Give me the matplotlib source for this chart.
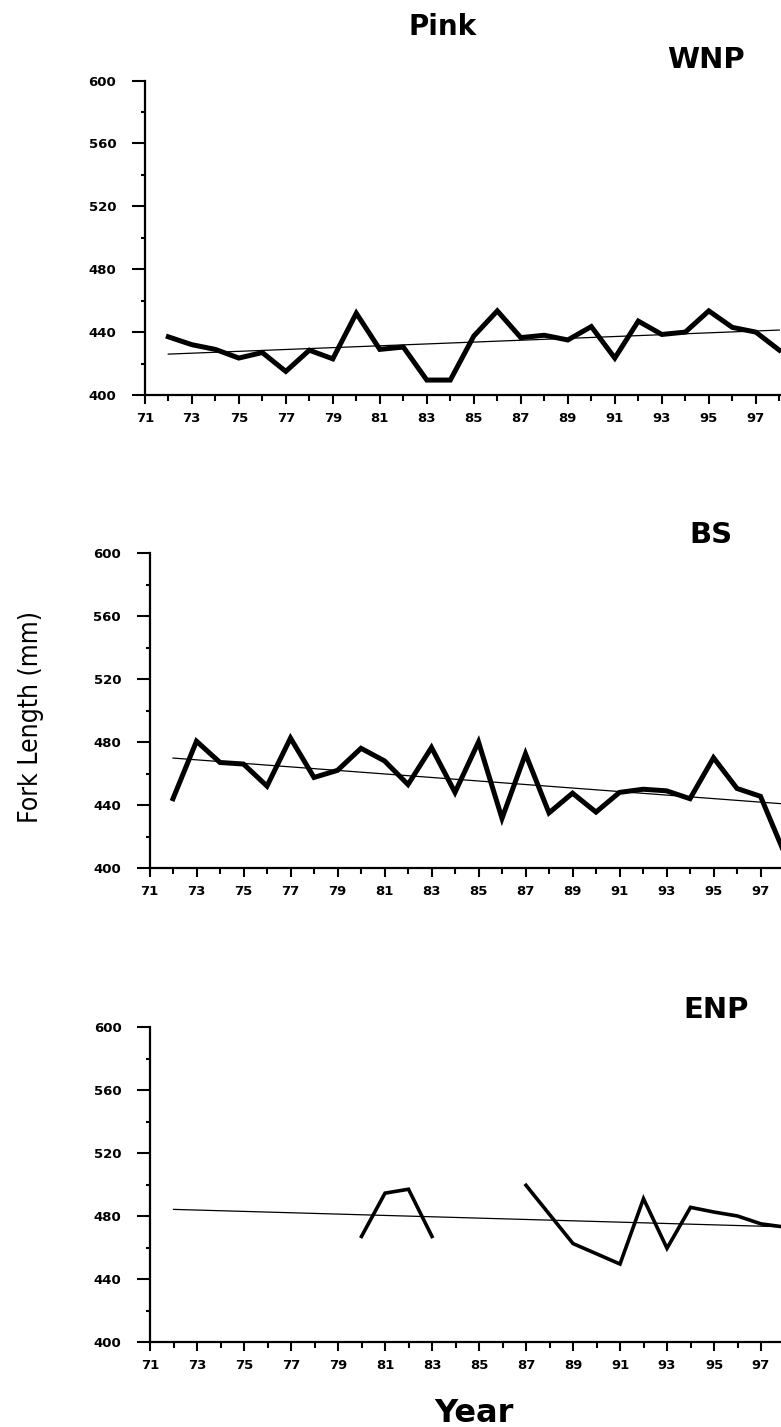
import numpy as np
import matplotlib
matplotlib.use("Agg")
import matplotlib.pyplot as plt
from matplotlib import font_manager
from matplotlib.ticker import MultipleLocator

# years 72..98 (two-digit, as on the axis)
years = list(range(72, 99))

wnp = [437, 432, 429, 423.5, 427, 415, 428.5, 423, 452, 429, 430.5, 409.5, 409.5, 437.5,
       453.5, 436.5, 438, 435, 443.5, 423.5, 447, 438.5, 440, 453.5, 443, 440, 428.5]
bs = [444, 480.5, 467, 466, 452, 482.5, 457.5, 462, 476, 468, 453, 476.5, 448, 480,
      431.5, 472.5, 435, 447.5, 435.5, 448, 450, 449, 444, 470, 450.5, 445.5, 410]
enp = [np.nan] * 8 + [467, 494.5, 497, 467] + [np.nan] * 3 + \
      [499.5, 481, 462.5, 456, 449.5, 491, 459.5, 485.5, 482.5, 480, 475, 473]

# regression lines, end points
trend_years = [72, 98]
wnp_trend = [426, 441.3]
bs_trend = [469.8, 440.7]
enp_trend = [484.2, 473.1]

W, H = 781, 1427
dpi = 100
fig = plt.figure(figsize=(W / dpi, H / dpi), dpi=dpi)

tick_font = {"family": "DejaVu Sans", "weight": "bold", "size": 9.5}
head_font = "DejaVu Sans"

# narrow face for the y label, if one is around
fonts = font_manager.fontManager.ttflist
if any(f.name == "Liberation Sans Narrow" for f in fonts):
    ylab_kw = dict(family="Liberation Sans Narrow", fontsize=22)
elif any(f.name == "DejaVu Sans" and f.stretch == "condensed" for f in fonts):
    ylab_kw = dict(family="DejaVu Sans", stretch="condensed", fontsize=19)
else:
    ylab_kw = dict(family="DejaVu Sans", fontsize=17)
print(ylab_kw)

px_per_year = 23.5


def make_axes(left_px, top_px, bottom_px):
    width_px = 28 * px_per_year
    return fig.add_axes([left_px / W, 1 - bottom_px / H, width_px / W, (bottom_px - top_px) / H])


def style(ax):
    ax.set_xlim(71, 99)
    ax.set_ylim(400, 600)
    ax.spines["top"].set_visible(False)
    ax.spines["right"].set_visible(False)
    ax.spines["left"].set_linewidth(1.6)
    ax.spines["bottom"].set_linewidth(1.6)
    ax.xaxis.set_minor_locator(MultipleLocator(1))
    ax.yaxis.set_minor_locator(MultipleLocator(20))
    ax.set_xticks(range(71, 99, 2))
    ax.set_xticklabels([str(y) for y in range(71, 99, 2)], fontdict=tick_font)
    ax.set_yticks(range(400, 601, 40))
    ax.set_yticklabels([str(v) for v in range(400, 601, 40)], fontdict=tick_font)
    ax.tick_params(axis="x", which="major", direction="out", length=6.5, width=1.5, pad=6)
    ax.tick_params(axis="x", which="minor", direction="out", length=4.3, width=1.5)
    ax.tick_params(axis="y", which="major", direction="out", length=9.5, width=1.5, pad=11)
    ax.tick_params(axis="y", which="minor", direction="out", length=3, width=1.5)
    ax.patch.set_alpha(0)


ax1 = make_axes(144.8, 80.5, 395)
ax2 = make_axes(149.5, 553, 868)
ax3 = make_axes(150, 1027, 1342)

ax1.plot(years, wnp, color="black", lw=3.6, solid_joinstyle="miter")
ax1.plot(trend_years, wnp_trend, color="black", lw=0.9)
ax2.plot(years, bs, color="black", lw=3.6, solid_joinstyle="miter")
ax2.plot(trend_years, bs_trend, color="black", lw=0.9)
ax3.plot(years, enp, color="black", lw=2.6, solid_joinstyle="miter")
ax3.plot(trend_years, enp_trend, color="black", lw=0.9)

for ax in (ax1, ax2, ax3):
    style(ax)
    for line in ax.lines:
        line.set_clip_on(False)

fig.text(443 / W, 1 - 27 / H, "Pink", ha="center", va="center",
         family=head_font, weight="bold", fontsize=20)
fig.text(706 / W, 1 - 60 / H, "WNP", ha="center", va="center",
         family=head_font, weight="bold", fontsize=21)
fig.text(711 / W, 1 - 535 / H, "BS", ha="center", va="center",
         family=head_font, weight="bold", fontsize=21)
fig.text(716 / W, 1 - 1010 / H, "ENP", ha="center", va="center",
         family=head_font, weight="bold", fontsize=21)
fig.text(474 / W, 1 - 1413 / H, "Year", ha="center", va="center",
         family=head_font, weight="bold", fontsize=23)
fig.text(31 / W, 1 - 717 / H, "Fork Length (mm)", ha="center", va="center", rotation=90,
         **ylab_kw)

fig.savefig("out.png", dpi=dpi)
